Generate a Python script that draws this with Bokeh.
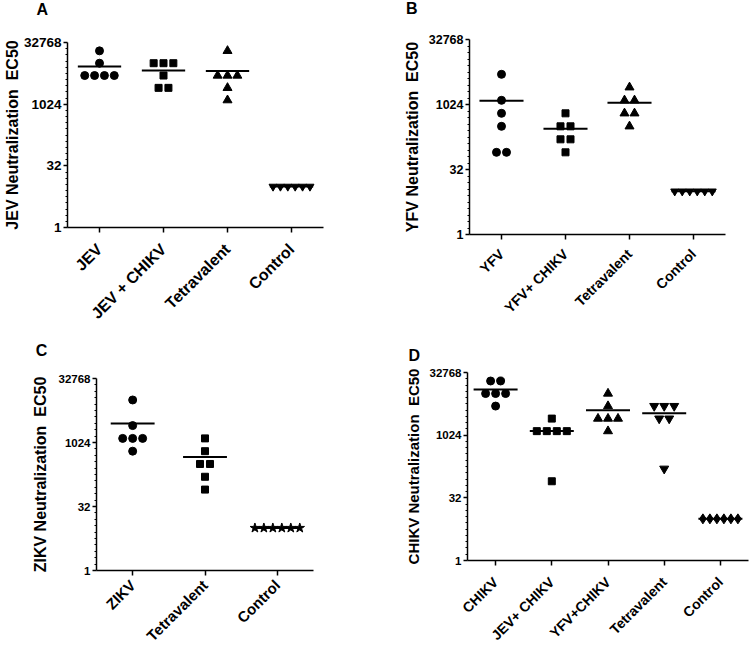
import math
from bokeh.plotting import figure
from bokeh.models import Range1d, FixedTicker, NumeralTickFormatter, Label
from bokeh.layouts import column, row
from bokeh.embed import file_html
from bokeh.resources import INLINE

# ---------------- data ----------------
y_ticks = [1, 32, 1024, 32768]

a_categories = ["JEV", "JEV + CHIKV", "Tetravalent", "Control"]
a_jev = [20480, 10240, 5120, 5120, 5120, 5120]
a_jev_chikv = [10240, 10240, 10240, 5120, 2560, 2560]
a_tetravalent = [20480, 5120, 5120, 5120, 2560, 1280]
a_control = [10, 10, 10, 10, 10, 10]

b_categories = ["YFV", "YFV+ CHIKV", "Tetravalent", "Control"]
b_yfv = [5120, 1280, 640, 320, 80, 80]
b_yfv_chikv = [640, 320, 320, 160, 160, 80]
b_tetravalent = [2560, 1280, 1280, 640, 640, 320]
b_control = [10, 10, 10, 10, 10, 10]

c_categories = ["ZIKV", "Tetravalent", "Control"]
c_zikv = [10240, 2560, 1280, 1280, 1280, 640]
c_tetravalent = [1280, 640, 320, 320, 160, 80]
c_control = [10, 10, 10, 10, 10, 10]

d_categories = ["CHIKV", "JEV+ CHIKV", "YFV+CHIKV", "Tetravalent", "Control"]
d_chikv = [20480, 20480, 10240, 10240, 10240, 5120]
d_jev_chikv = [2560, 1280, 1280, 1280, 1280, 80]
d_yfv_chikv = [10240, 5120, 2560, 2560, 2560, 1280]
d_tetravalent = [5120, 5120, 5120, 2560, 2560, 160]
d_control = [10, 10, 10, 10, 10, 10]

FONT = "Liberation Sans"


def panel(cats, series, markers, sizes, spacings, origin, size, frame,
          letter, letter_pos, ylabel, ylabel_fs, ylabel_standoff,
          ytick_fs, xlab_fs, xlab_standoff):
    ox, oy = origin
    w, h = size
    fl, fr, ft, fb = frame
    n = len(cats)
    p = figure(width=w, height=h, output_backend="svg", toolbar_location=None,
               y_axis_type="log",
               x_range=Range1d(-0.5, n - 0.5), y_range=Range1d(1, 32768),
               min_border_left=round(fl - ox), min_border_right=round(ox + w - fr),
               min_border_top=round(ft - oy), min_border_bottom=round(oy + h - fb))
    try:
        p.frame_align = False
    except Exception:
        pass
    p.outline_line_color = None
    p.xgrid.visible = False
    p.ygrid.visible = False
    p.background_fill_color = "white"
    p.border_fill_color = "white"

    # panel letter in the space above the frame
    lx, ly = letter_pos
    p.add_layout(Label(x=lx, y=ly, x_units="screen", y_units="screen", text=letter,
                       text_align="left", text_baseline="alphabetic",
                       text_font=FONT, text_font_style="bold",
                       text_font_size="16px", text_color="black"), "above")

    px = (fr - fl) / n
    for i, (vals, mk, ms, sp) in enumerate(zip(series, markers, sizes, spacings)):
        counts = {}
        for v in vals:
            counts[v] = counts.get(v, 0) + 1
        seen = {}
        xs = []
        for v in vals:
            k = counts[v]
            j = seen.get(v, 0)
            seen[v] = j + 1
            xs.append(i + (j - (k - 1) / 2) * sp / px)
        mean = sum(vals) / len(vals)
        hw = 22 / px
        p.segment(x0=[i - hw], x1=[i + hw], y0=[mean], y1=[mean],
                  line_color="black", line_width=2)
        p.scatter(xs, vals, marker=mk, size=ms, color="black")

    minor = [2 ** (k / 2) for k in range(1, 30) if k % 10 != 0]
    ya = p.yaxis[0]
    ya.ticker = FixedTicker(ticks=y_ticks, minor_ticks=minor)
    ya.formatter = NumeralTickFormatter(format="0")
    ya.axis_line_width = 1.5
    ya.axis_line_color = "black"
    ya.major_tick_line_color = "black"
    ya.major_tick_line_width = 1.5
    ya.major_tick_out = 4
    ya.major_tick_in = 0
    ya.minor_tick_line_color = "black"
    ya.minor_tick_line_width = 1
    ya.minor_tick_out = 2
    ya.minor_tick_in = 0
    ya.major_label_standoff = 2
    ya.major_label_text_font = FONT
    ya.major_label_text_font_style = "bold"
    ya.major_label_text_font_size = f"{ytick_fs}px"
    ya.major_label_text_color = "black"
    ya.axis_label = ylabel
    ya.axis_label_standoff = ylabel_standoff
    ya.axis_label_text_font = FONT
    ya.axis_label_text_font_style = "bold"
    ya.axis_label_text_font_size = f"{ylabel_fs}px"
    ya.axis_label_text_color = "black"

    xa = p.xaxis[0]
    xa.ticker = FixedTicker(ticks=list(range(n)))
    xa.major_label_overrides = {i: c for i, c in enumerate(cats)}
    xa.major_label_orientation = math.pi / 4
    xa.axis_line_width = 1.5
    xa.axis_line_color = "black"
    xa.major_tick_line_color = "black"
    xa.major_tick_line_width = 1.5
    xa.major_tick_out = 5
    xa.major_tick_in = 0
    xa.minor_tick_line_color = None
    xa.major_label_standoff = xlab_standoff
    xa.major_label_text_font = FONT
    xa.major_label_text_font_style = "bold"
    xa.major_label_text_font_size = f"{xlab_fs}px"
    xa.major_label_text_color = "black"
    return p


NB = "\u00a0\u00a0"

pa = panel(a_categories, [a_jev, a_jev_chikv, a_tetravalent, a_control],
           ["circle", "square", "triangle", "inverted_triangle"], [8, 7, 9, 8], [10, 10, 10, 7.5],
           (0, 0), (374, 330), (63, 323, 42.3, 228.7),
           "A", (-31, 33.5), "JEV Neutralization" + NB + "EC50", 16, 0, 13.5, 16, 14)

pb = panel(b_categories, [b_yfv, b_yfv_chikv, b_tetravalent, b_control],
           ["circle", "square", "triangle", "inverted_triangle"], [8, 7, 9, 8], [10, 10, 10, 7.5],
           (374, 0), (375, 330), (469.3, 725, 39.3, 234.3),
           "B", (-63.6, 31), "YFV Neutralization" + NB + "EC50", 16, 5, 12.5, 14, 12)

pc = panel(c_categories, [c_zikv, c_tetravalent, c_control],
           ["circle", "square", "star"], [8, 7, 10], [10, 10, 9],
           (0, 330), (374, 323), (95.7, 313.3, 377.7, 572.3),
           "C", (-60.7, 27.7), "ZIKV Neutralization" + NB + "EC50", 16, 7, 11.5, 15, 7)

pd_ = panel(d_categories, [d_chikv, d_jev_chikv, d_yfv_chikv, d_tetravalent, d_control],
            ["circle", "square", "triangle", "inverted_triangle", "diamond"], [8, 7, 9, 9, 10],
            [10, 10, 10, 10, 7],
            (374, 330), (375, 323), (467.3, 748.3, 371.7, 560),
            "D", (-59, 17), "CHIKV Neutralization" + NB + "EC50", 15, 5, 11.5, 14, 14)

layout = column(row(pa, pb), row(pc, pd_))
open("out.html", "w").write(file_html(layout, INLINE))
